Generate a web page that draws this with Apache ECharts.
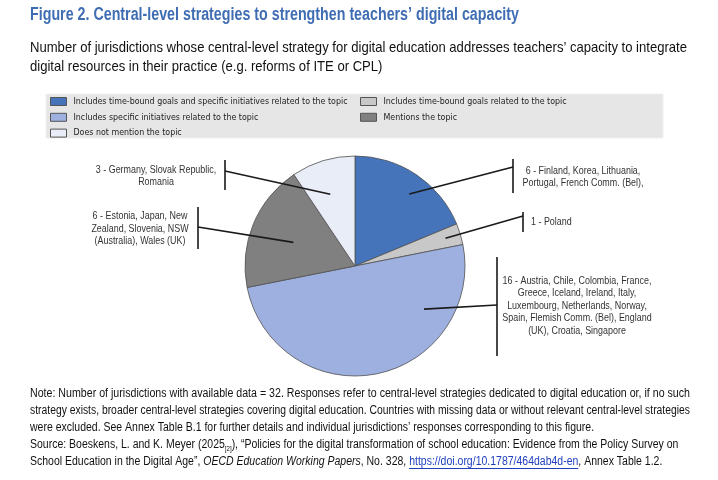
<!DOCTYPE html>
<html><head><meta charset="utf-8">
<script src="https://cdn.jsdelivr.net/npm/echarts@6/dist/echarts.min.js"></script>
<style>html,body{margin:0;padding:0;background:#fff}#c{width:718px;height:480px}</style>
</head><body><div id="c"></div>
<script>
// ---------- data ----------
const categories = [
  'Includes time-bound goals and specific initiatives related to the topic',
  'Includes time-bound goals related to the topic',
  'Includes specific initiatives related to the topic',
  'Mentions the topic',
  'Does not mention the topic'
];
const values = [6, 1, 16, 6, 3];
const sliceLabels = [
  '6 - Finland, Korea, Lithuania,\nPortugal, French Comm. (Bel),',
  '1 - Poland',
  '16 - Austria, Chile, Colombia, France,\nGreece, Iceland, Ireland, Italy,\nLuxembourg, Netherlands, Norway,\nSpain, Flemish Comm. (Bel), England\n(UK), Croatia, Singapore',
  '6 - Estonia, Japan, New\nZealand, Slovenia, NSW\n(Australia), Wales (UK)',
  '3 - Germany, Slovak Republic,\nRomania'
];
const titleText = 'Figure 2. Central-level strategies to strengthen teachers’ digital capacity';
const subtitleLines = [
  'Number of jurisdictions whose central-level strategy for digital education addresses teachers’ capacity to integrate',
  'digital resources in their practice (e.g. reforms of ITE or CPL)'
];
const noteLines = [
  'Note: Number of jurisdictions with available data = 32. Responses refer to central-level strategies dedicated to digital education or, if no such',
  'strategy exists, broader central-level strategies covering digital education. Countries with missing data or without relevant central-level strategies',
  'were excluded. See Annex Table B.1 for further details and individual jurisdictions’ responses corresponding to this figure.',
  'Source: Boeskens, L. and K. Meyer (2025{sub|[2]}), “Policies for the digital transformation of school education: Evidence from the Policy Survey on'
];
const lastLineParts = ['School Education in the Digital Age”, ', 'OECD Education Working Papers', ', No. 328, ', 'https://doi.org/10.1787/464dab4d-en', ', Annex Table 1.2.'];

// ---------- style ----------
const colors = ['#4674BB', '#C8C8C8', '#9DB0E0', '#808080', '#E9EDF7'];
const SANS = "'Liberation Sans', Arial, sans-serif";
const COND = "'DejaVu Sans Condensed', 'Liberation Sans', sans-serif";
const labelPlace = [
  {bx: 513, by: [159, 193], tx: 583, ty: 177, align: 'center', ly: 167, a: 37, f: 0.82},
  {bx: 523, by: [212, 232], tx: 531, ty: 222, align: 'left', ly: 216, a: 73, f: 0.86},
  {bx: 497, by: [257, 356], tx: 577, ty: 306, align: 'center', ly: 305, a: 122, f: 0.74},
  {bx: 198, by: [207, 249], tx: 140, ty: 229, align: 'center', ly: 227, a: 291, f: 0.60},
  {bx: 225, by: [160, 190], tx: 156, ty: 176, align: 'center', ly: 171, a: 341, f: 0.69}
];

const mctx = document.createElement('canvas').getContext('2d');
function tw(str, size, weight, style) {
  mctx.font = (style || 'normal') + ' ' + (weight || 'normal') + ' ' + size + 'px ' + SANS;
  return mctx.measureText(str).width;
}

const chart = echarts.init(document.getElementById('c'), null, {renderer: 'canvas'});
const legendA = [0, 2, 4].map(i => categories[i]);
const legendB = [1, 3].map(i => categories[i]);
const legendCommon = {
  orient: 'vertical', itemWidth: 16, itemHeight: 8, itemGap: 6.8,
  icon: 'rect', selectedMode: false, padding: 0,
  itemStyle: {borderColor: '#555', borderWidth: 1},
  textStyle: {fontFamily: COND, fontSize: 8.8, color: '#222', padding: [0, 0, 0, 2]}
};
chart.setOption({
  animation: false,
  color: colors,
  legend: [
    Object.assign({}, legendCommon, {data: legendA, left: 50, top: 97}),
    Object.assign({}, legendCommon, {data: legendB, left: 360, top: 97})
  ],
  series: [{
    type: 'pie', center: [355, 266], radius: 110, startAngle: 90, clockwise: true,
    label: {show: false}, labelLine: {show: false},
    emphasis: {disabled: true}, silent: true,
    itemStyle: {borderColor: '#505050', borderWidth: 0.8},
    data: categories.map((n, i) => ({name: n, value: values[i]}))
  }]
});

function textEl(x, y, text, size, opts) {
  opts = opts || {};
  return {type: 'text', z: 50, x: x, y: y, scaleX: opts.scale || 0.82, originX: 0, originY: 0,
    style: Object.assign({text: text, fontFamily: SANS, fontSize: size, fill: opts.fill || '#111',
      fontWeight: opts.weight || 'normal', align: opts.align || 'left', verticalAlign: 'middle',
      lineHeight: opts.lh || size * 1.2}, opts.style || {})};
}

function buildAnnotations() {
  const data = chart.getModel().getSeriesByIndex(0).getData();
  const els = [{type: 'rect', z: -10, shape: {x: 46, y: 94, width: 617, height: 44},
                style: {fill: '#E6E6E6', stroke: '#F0F0F0', lineWidth: 1}}];
  // title
  const tS = 489 / tw(titleText, 17.5, 'bold');
  els.push(textEl(30, 15, titleText, 17.5, {weight: 'bold', fill: '#3F6DB3', scale: tS}));
  // subtitle
  const sS = 657 / tw(subtitleLines[0], 15);
  subtitleLines.forEach((l, k) => els.push(textEl(30, 48 + k * 19, l, 15, {scale: sS})));
  // note
  const nS1 = 660 / tw(noteLines[0], 12);
  const nS2 = 660 / tw(noteLines[1], 12);
  const nS = (nS1 + nS2) / 2;
  const noteRich = {
    sub: {fontFamily: SANS, fontSize: 7, fill: '#111', verticalAlign: 'bottom', lineHeight: 15},
    n: {fontFamily: SANS, fontSize: 12, fill: '#111'}
  };
  noteLines.forEach((l, k) => els.push(textEl(30, 394 + k * 17, l, 12,
    {scale: k === 0 ? nS1 : (k === 1 ? nS2 : nS), style: {rich: noteRich}})));
  // last line with italic and link
  const styles = ['normal', 'italic', 'normal', 'normal', 'normal'];
  let cx = 30;
  lastLineParts.forEach((p, k) => {
    els.push(textEl(cx, 462, p, 12, {scale: nS, fill: k === 3 ? '#1F3FBF' : '#111',
      style: {fontStyle: styles[k]}}));
    const w = tw(p, 12, 'normal', styles[k]) * nS;
    if (k === 3) {
      els.push({type: 'line', z: 50, shape: {x1: cx, y1: 468.5, x2: cx + w, y2: 468.5},
                style: {stroke: '#1F3FBF', lineWidth: 1}});
    }
    cx += w;
  });
  // slice annotations
  values.forEach((v, i) => {
    const lay = data.getItemLayout(i);
    const p = labelPlace[i];
    const ang = (p.a - 90) * Math.PI / 180;
    const sx = lay.cx + lay.r * p.f * Math.cos(ang);
    const sy = lay.cy + lay.r * p.f * Math.sin(ang);
    els.push({type: 'line', z: 50, shape: {x1: sx, y1: sy, x2: p.bx, y2: p.ly},
              style: {stroke: '#1a1a1a', lineWidth: 1.6}});
    els.push({type: 'line', z: 50, shape: {x1: p.bx, y1: p.by[0], x2: p.bx, y2: p.by[1]},
              style: {stroke: '#1a1a1a', lineWidth: 1.6}});
    els.push(textEl(p.tx, p.ty, sliceLabels[i], 10.5, {scale: 0.85, fill: '#333', align: p.align, lh: 12.4}));
  });
  chart.setOption({graphic: els});
}
buildAnnotations();
</script></body></html>
